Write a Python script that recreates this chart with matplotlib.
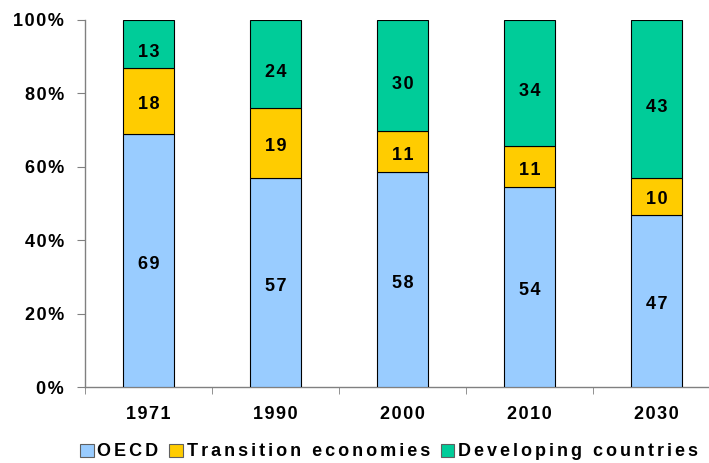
import matplotlib
matplotlib.use("Agg")
import matplotlib.pyplot as plt
import numpy as np
from matplotlib.patches import Patch

years = ["1971", "1990", "2000", "2010", "2030"]
oecd = [69, 57, 58, 54, 47]
transition = [18, 19, 11, 11, 10]
developing = [13, 24, 30, 34, 43]
series_names = ["OECD", "Transition economies", "Developing countries"]
colors = ["#99CCFF", "#FFCC00", "#00CC99"]

def spaced(s, sep="\u200a"):
    return sep.join(s)

plt.rcParams['font.family'] = ['Liberation Sans', 'DejaVu Sans']

fig = plt.figure(figsize=(7.09, 4.63), dpi=100)
W, H = 709, 463
ax = fig.add_axes([85 / W, 1 - 387 / H, 635 / W, 367 / H])

data = np.array([oecd, transition, developing], dtype=float)
totals = data.sum(axis=0)
shares = data / totals * 100
x = np.arange(len(years))
bottom = np.zeros(len(years))
label_offsets = [-1.0, -1.0, -2.4]
for i in range(3):
    ax.bar(x, shares[i], 0.4, bottom=bottom, color=colors[i],
           edgecolor="black", linewidth=0.8, zorder=3)
    for j in range(len(years)):
        ax.text(x[j], bottom[j] + shares[i][j] / 2 + label_offsets[i],
                spaced(str(int(data[i][j]))),
                ha="center", va="center", fontsize=13, fontweight="bold", zorder=4)
    bottom += shares[i]

ax.set_xlim(-0.5, len(years) - 0.5)
ax.set_ylim(0, 100)
ax.set_yticks(np.arange(0, 101, 20))
ax.set_yticklabels([spaced(f"{v}%") for v in range(0, 101, 20)], fontsize=13, fontweight="bold")
ax.set_xticks(x)
ax.set_xticklabels([spaced(y) for y in years], fontsize=13, fontweight="bold")
ax.set_xticks(np.arange(-0.5, len(years), 1), minor=True)
ax.tick_params(axis="x", which="major", length=0, pad=14)
ax.tick_params(axis="x", which="minor", length=5, direction="out", color="#808080")
ax.tick_params(axis="y", length=6, direction="out", color="#808080", pad=9)
for s in ["top", "right"]:
    ax.spines[s].set_visible(False)
for s in ["left", "bottom"]:
    ax.spines[s].set_color("#808080")
    ax.spines[s].set_linewidth(1.0)

handles = [Patch(facecolor=colors[i], edgecolor="#606060", linewidth=0.8) for i in range(3)]
fig.legend(handles, [spaced(n, "\u200a\u200a") for n in series_names], loc="center",
           bbox_to_anchor=(389 / W, 1 - 452 / H), ncol=3, frameon=False,
           prop={"size": 13, "weight": "bold"}, handlelength=0.75, handleheight=0.75,
           handletextpad=0.2, columnspacing=0.6)

fig.savefig("out.png", dpi=100)
